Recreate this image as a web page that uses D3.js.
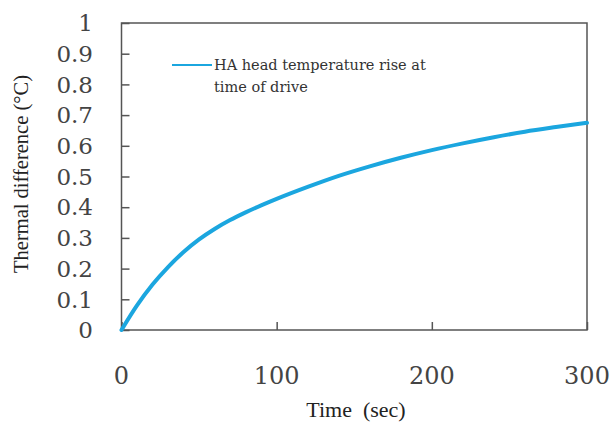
<!DOCTYPE html>
<html>
<head>
<meta charset="utf-8">
<script src="https://cdn.jsdelivr.net/npm/d3@7"></script>
<style>
  body { margin: 0; background: #fff; }
  svg { display: block; }
</style>
</head>
<body>
<div id="chart"></div>
<script>
'use strict';

// time in seconds, temperature rise in degC
const times  = [0, 10, 20, 30, 40, 50, 60, 70, 80, 90, 100, 120, 140, 160, 180, 200, 220, 240, 260, 280, 300];
const values = [0, 0.08, 0.148, 0.205, 0.254, 0.295, 0.329, 0.358, 0.383, 0.406, 0.427, 0.466, 0.502, 0.533, 0.561, 0.586, 0.608, 0.628, 0.646, 0.661, 0.675];
const xTicks = [0, 100, 200, 300];
const yTicks = [0, 0.1, 0.2, 0.3, 0.4, 0.5, 0.6, 0.7, 0.8, 0.9, 1];
const seriesName = ['HA head temperature rise at', 'time of drive'];

const W = 614, H = 423;
const m = {left: 121.5, right: 27, top: 23, bottom: 93};

const svg = d3.select('#chart').append('svg')
  .attr('width', W).attr('height', H);

const x = d3.scaleLinear().domain([0, 300]).range([m.left, W - m.right]);
const y = d3.scaleLinear().domain([0, 1]).range([H - m.bottom, m.top]);

const axisColor = '#555';
const tickFont = 'DejaVu Serif, serif';
const titleFont = 'Liberation Serif, Times New Roman, serif';

// frame
svg.append('rect')
  .attr('x', x(0)).attr('y', y(1))
  .attr('width', x(300) - x(0)).attr('height', y(0) - y(1))
  .style('fill', 'none')
  .style('stroke', axisColor)
  .style('stroke-width', 1.5);

// y axis: ticks point inward
const yAxis = svg.append('g')
  .attr('transform', `translate(${x(0)},0)`)
  .call(d3.axisRight(y).tickValues(yTicks).tickSize(8).tickFormat(''));
yAxis.select('.domain').remove();
yAxis.selectAll('line').style('stroke', axisColor).style('stroke-width', 1.5);

svg.append('g').selectAll('text')
  .data(yTicks)
  .enter()
  .append('text')
  .attr('x', 93)
  .attr('y', d => y(d))
  .attr('dy', '0.36em')
  .attr('text-anchor', 'end')
  .text(d => d3.format('~g')(d))
  .style('font-family', tickFont)
  .style('font-size', '23px')
  .style('fill', '#444');

// x axis: ticks point inward
const xAxis = svg.append('g')
  .attr('transform', `translate(0,${y(0)})`)
  .call(d3.axisTop(x).tickValues(xTicks).tickSize(8).tickFormat(''));
xAxis.select('.domain').remove();
xAxis.selectAll('line').style('stroke', axisColor).style('stroke-width', 1.5);

svg.append('g').selectAll('text')
  .data(xTicks)
  .enter()
  .append('text')
  .attr('x', d => x(d))
  .attr('y', 375)
  .attr('dy', '0.36em')
  .attr('text-anchor', 'middle')
  .text(d => d)
  .style('font-family', tickFont)
  .style('font-size', '24px')
  .style('fill', '#444');

// axis titles
svg.append('text')
  .attr('transform', 'translate(28,174) rotate(-90)')
  .attr('text-anchor', 'middle')
  .text('Thermal difference (°C)')
  .style('font-family', titleFont)
  .style('font-size', '20.5px')
  .style('fill', '#222');

svg.append('text')
  .attr('x', 356)
  .attr('y', 417)
  .attr('text-anchor', 'middle')
  .attr('xml:space', 'preserve')
  .text('Time  (sec)')
  .style('font-family', titleFont)
  .style('font-size', '22px')
  .style('white-space', 'pre')
  .style('fill', '#222');

// curve
const pts = times.map((t, i) => [t, values[i]]);
svg.append('path')
  .datum(pts)
  .attr('d', d3.line().x(d => x(d[0])).y(d => y(d[1])).curve(d3.curveMonotoneX))
  .style('fill', 'none')
  .style('stroke', '#1ba6df')
  .style('stroke-width', 4)
  .style('stroke-linecap', 'round');

// legend
const legend = svg.append('g').attr('transform', 'translate(172,65)');
legend.append('line')
  .attr('x1', 0).attr('x2', 40)
  .attr('y1', 0).attr('y2', 0)
  .style('stroke', '#1ba6df')
  .style('stroke-width', 2);
legend.selectAll('text')
  .data(seriesName)
  .enter()
  .append('text')
  .attr('x', 42)
  .attr('y', (d, i) => i * 22)
  .attr('dy', '0.35em')
  .text(d => d)
  .style('font-family', tickFont)
  .style('font-size', '14.5px')
  .style('fill', '#333');
</script>
</body>
</html>
